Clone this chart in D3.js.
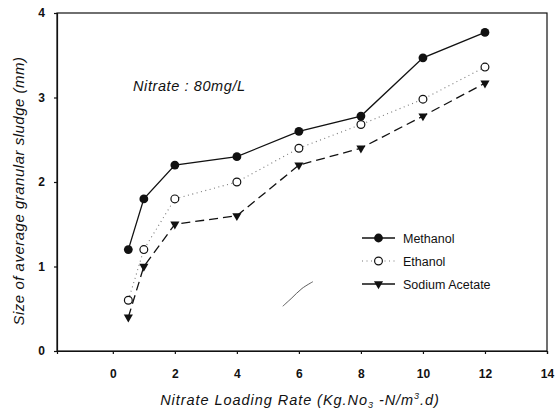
<!DOCTYPE html>
<html>
<head>
<meta charset="utf-8">
<script src="https://cdn.jsdelivr.net/npm/d3@7"></script>
<style>
  html, body { margin: 0; padding: 0; background: #fff; }
  svg { display: block; font-family: "Liberation Sans", Arial, sans-serif; }
</style>
</head>
<body>
<svg id="chart" width="558" height="414"></svg>
<script>
// Loading rates (Kg NO3-N / m3.d)
const loadingRates = [0.5, 1, 2, 4, 6, 8, 10, 12];
// Average granular sludge size (mm) per carbon source
const methanol = [1.2, 1.8, 2.2, 2.3, 2.6, 2.78, 3.47, 3.77];
const ethanol = [0.6, 1.2, 1.8, 2.0, 2.4, 2.68, 2.98, 3.36];
const sodiumAcetate = [0.4, 1.0, 1.5, 1.6, 2.2, 2.4, 2.78, 3.17];
const seriesNames = ["Methanol", "Ethanol", "Sodium Acetate"];
const xTicks = [0, 2, 4, 6, 8, 10, 12, 14];
const yTicks = [0, 1, 2, 3, 4];
// faint pen stroke inside the plot, in data units
const strokeMark = [[5.48, 0.53], [5.75, 0.62], [6.1, 0.74], [6.45, 0.82]];

const svg = d3.select("#chart");
const x = d3.scaleLinear().domain([-1.8, 14]).range([57, 547]);
const y = d3.scaleLinear().domain([0, 4]).range([351, 13]);

const ink = "#111";

// frame
svg.append("rect")
  .attr("x", x(-1.8)).attr("y", y(4))
  .attr("width", x(14) - x(-1.8)).attr("height", y(0) - y(4))
  .attr("fill", "none").attr("stroke", ink).attr("stroke-width", 1.2);

// axes
const xAxis = svg.append("g").attr("transform", `translate(0,${y(0)})`)
  .call(d3.axisBottom(x).tickValues(xTicks).tickSize(3).tickPadding(15).tickFormat(d3.format("d")));
const yAxis = svg.append("g").attr("transform", `translate(${x(-1.8)},0)`)
  .call(d3.axisLeft(y).tickValues(yTicks).tickSize(3).tickPadding(9).tickFormat(d3.format("d")));
[xAxis, yAxis].forEach(g => {
  g.select(".domain").attr("stroke", ink).attr("stroke-width", 1.2);
  g.selectAll(".tick line").attr("stroke", ink).attr("stroke-width", 1.2);
  g.selectAll(".tick text").attr("fill", ink)
    .style("font-size", "12px").style("font-weight", "bold")
    .style("font-family", "'Liberation Sans', Arial, sans-serif");
});

// axis titles
svg.append("text")
  .attr("x", 300).attr("y", 405)
  .attr("text-anchor", "middle")
  .style("font-size", "14.5px").style("font-style", "italic")
  .style("letter-spacing", "0.95px").attr("fill", ink)
  .call(t => {
    t.append("tspan").text("Nitrate Loading Rate (Kg.No");
    t.append("tspan").attr("dy", 3).style("font-size", "9px").text("3");
    t.append("tspan").attr("dy", -3).text(" -N/m");
    t.append("tspan").attr("dy", -6).style("font-size", "9px").text("3");
    t.append("tspan").attr("dy", 6).text(".d)");
  });

svg.append("text")
  .attr("transform", "translate(24,191) rotate(-90)")
  .attr("text-anchor", "middle")
  .style("font-size", "15px").style("font-style", "italic")
  .style("letter-spacing", "0.5px").attr("fill", ink)
  .text("Size of average granular sludge (mm)");

// annotation
svg.append("text")
  .attr("x", 133).attr("y", 91)
  .style("font-size", "14.5px").style("font-style", "italic")
  .style("letter-spacing", "0.6px").attr("fill", ink)
  .text("Nitrate : 80mg/L");

// stray pen stroke
svg.append("path")
  .attr("d", d3.line().x(d => x(d[0])).y(d => y(d[1])).curve(d3.curveCatmullRom)(strokeMark))
  .attr("fill", "none").attr("stroke", "#333").attr("stroke-width", 0.8);

const series = [
  { name: seriesNames[0], values: methanol, dash: null, color: ink, width: 1.3, marker: "filled" },
  { name: seriesNames[1], values: ethanol, dash: "1,3.5", color: "#777", width: 1.1, marker: "open" },
  { name: seriesNames[2], values: sodiumAcetate, dash: "9,5", color: ink, width: 1.3, marker: "triangle" }
];

const line = d3.line().x(d => x(d[0])).y(d => y(d[1]));
const triangle = d3.symbol().type(d3.symbolTriangle).size(36);

function drawMarker(g, kind, cx, cy) {
  if (kind === "filled") {
    g.append("circle").attr("cx", cx).attr("cy", cy).attr("r", 4.4).attr("fill", ink);
  } else if (kind === "open") {
    g.append("circle").attr("cx", cx).attr("cy", cy).attr("r", 3.9)
      .attr("fill", "#fff").attr("stroke", ink).attr("stroke-width", 1.2);
  } else {
    g.append("path").attr("d", triangle())
      .attr("transform", `translate(${cx},${cy}) rotate(180)`).attr("fill", ink);
  }
}

series.forEach(s => {
  const pts = loadingRates.map((r, i) => [r, s.values[i]]);
  svg.append("path")
    .attr("d", line(pts))
    .attr("fill", "none").attr("stroke", s.color).attr("stroke-width", s.width)
    .attr("stroke-dasharray", s.dash);
  const g = svg.append("g");
  pts.forEach(p => drawMarker(g, s.marker, x(p[0]), y(p[1])));
});

// legend
const legend = svg.append("g");
const legendRows = [238, 261, 284];
series.forEach((s, i) => {
  const ly = legendRows[i];
  legend.append("line")
    .attr("x1", 362).attr("x2", 395).attr("y1", ly).attr("y2", ly)
    .attr("stroke", s.color).attr("stroke-width", s.width)
    .attr("stroke-dasharray", i === 1 ? "1,3.5" : null);
  drawMarker(legend, s.marker, 378.5, ly);
  legend.append("text")
    .attr("x", 403).attr("y", ly + 4.5)
    .style("font-size", "12.5px").attr("fill", ink)
    .text(s.name);
});
</script>
</body>
</html>
